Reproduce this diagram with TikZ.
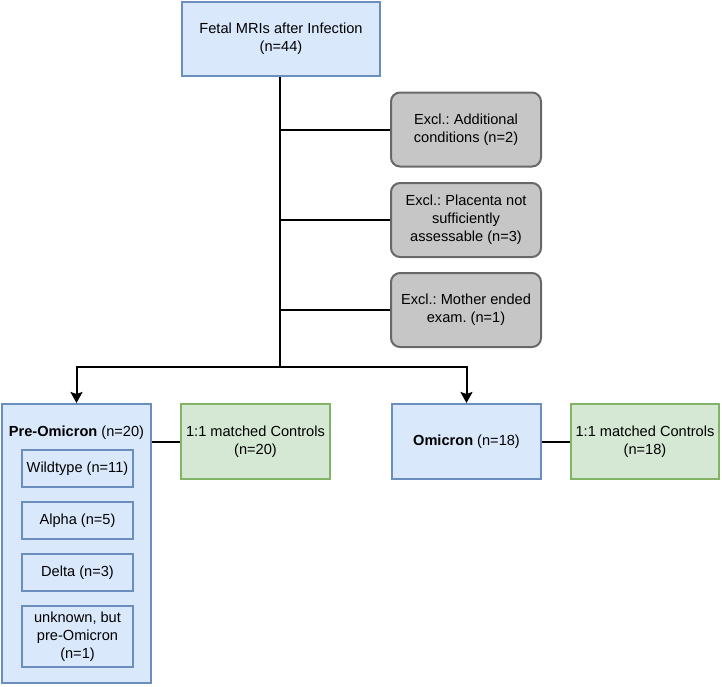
\documentclass[tikz,border=0pt]{standalone}
\usepackage{fontspec}
\setmainfont{Liberation Sans}
\usetikzlibrary{arrows.meta}
\definecolor{blueFill}{HTML}{DAE8FC}
\definecolor{blueLine}{HTML}{6C8EBF}
\definecolor{greenFill}{HTML}{D5E8D4}
\definecolor{greenLine}{HTML}{82B366}
\definecolor{grayFill}{HTML}{C6C6C6}
\definecolor{grayLine}{HTML}{686868}
\frenchspacing
\begin{document}
\begin{tikzpicture}
        [
        x = 1pt, y = -1pt,
        font = \fontsize{14.6}{18}\selectfont,
        link/.style = {line width = 2pt, black},
        arrow/.style = {link, -{Stealth[length=11pt, width=12pt, inset=2pt]}},
        ]
        \tikzstyle{group node}=[rectangle,draw=blueLine,fill=blueFill,line width=2pt,inner sep=0,align=center]
        \tikzstyle{sub node}=[rectangle,draw=blueLine,fill=blueFill,line width=1.2pt,inner sep=0,align=center,minimum width=111pt]
        \tikzstyle{excl node}=[rectangle,rounded corners=9pt,draw=grayLine,fill=grayFill,line width=2pt,inner sep=0,align=center,minimum width=150pt,minimum height=74pt]
        \tikzstyle{ctrl node}=[rectangle,draw=greenLine,fill=greenFill,line width=2pt,inner sep=0,align=center,minimum width=149pt,minimum height=75pt]

        \useasboundingbox (0,0) rectangle (722,686);

        % top of the flow
        \node[group node, minimum width=198pt, minimum height=74pt] (mri) at (281,39) {Fetal MRIs after Infection\\(n=44)};

        % exclusions
        \node[excl node] (excl1) at (466,129.5) {Excl.: Additional\\conditions (n=2)};
        \node[excl node] (excl2) at (466,220) {Excl.: Placenta not\\sufficiently\\assessable (n=3)};
        \node[excl node] (excl3) at (466,310) {Excl.: Mother ended\\exam. (n=1)};

        \coordinate (split) at (280,367);

        % pre-Omicron group
        \node[group node, minimum width=149pt, minimum height=279pt] (pre) at (76.5,543.5) {};
        \node[inner sep=0] (preTitle) at (76.5,433) {\textbf{Pre-Omicron} (n=20)};
        \node[sub node, minimum height=37pt] (wild) at (77.5,468.5) {Wildtype (n=11)};
        \node[sub node, minimum height=37pt] (alpha) at (77.5,520.5) {Alpha (n=5)};
        \node[sub node, minimum height=37pt] (delta) at (77.5,572.5) {Delta (n=3)};
        \node[sub node, minimum height=61pt] (unknown) at (77.5,636.5) {unknown, but\\pre-Omicron\\(n=1)};
        \node[ctrl node] (ctrlPre) at (255.5,441.5) {1:1 matched Controls\\(n=20)};

        % Omicron group
        \node[group node, minimum width=149pt, minimum height=75pt] (omi) at (466.5,441.5) {\textbf{Omicron} (n=18)};
        \node[ctrl node, minimum width=148pt] (ctrlOmi) at (645,441.5) {1:1 matched Controls\\(n=18)};

        % connectors
        \draw[link] (mri.south -| split) -- (split);
        \draw[link] (excl1.west -| split) -- (excl1.west);
        \draw[link] (excl2.west -| split) -- (excl2.west);
        \draw[link] (excl3.west -| split) -- (excl3.west);
        \draw[arrow] (split) -| (pre.north);
        \draw[arrow] (split) -| (omi.north);
        \draw[link] (ctrlPre.west -| pre.east) -- (ctrlPre.west);
        \draw[link] (omi.east) -- (ctrlOmi.west);
    \end{tikzpicture}
\end{document}
